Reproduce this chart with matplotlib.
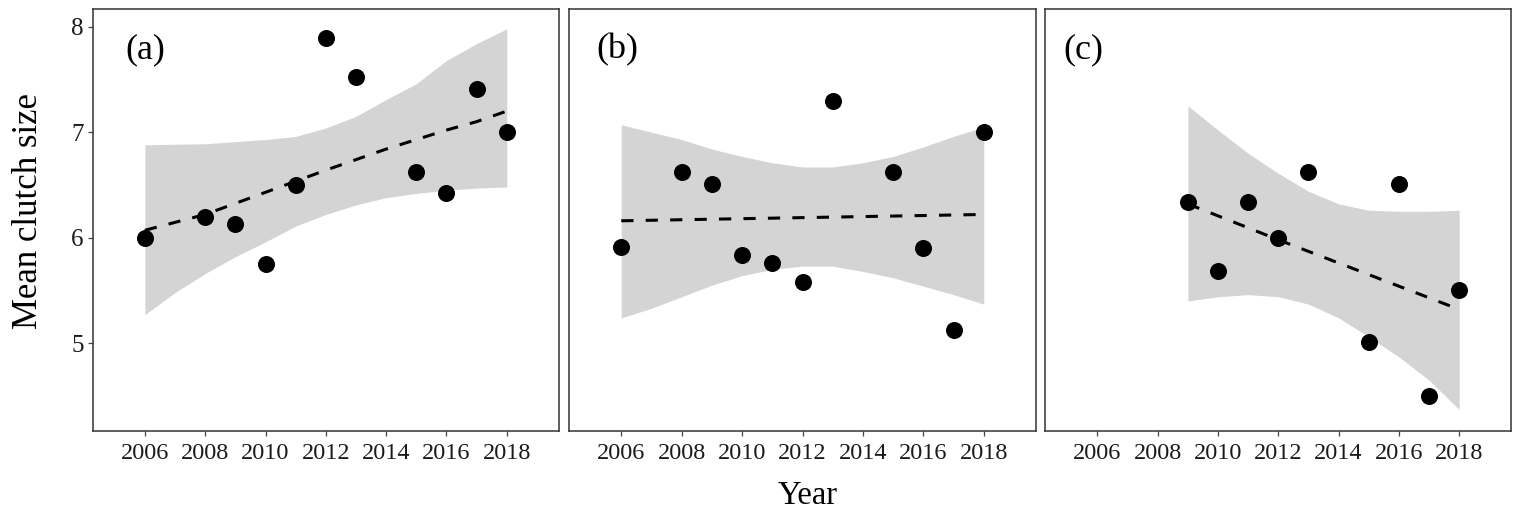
import matplotlib
matplotlib.use("Agg")
import matplotlib.pyplot as plt

plt.rcParams["font.family"] = ["Liberation Serif", "DejaVu Serif"]

# ---- data ----
years_a = [2006, 2008, 2009, 2010, 2011, 2012, 2013, 2015, 2016, 2017, 2018]
clutch_a = [6.00, 6.20, 6.13, 5.75, 6.50, 7.89, 7.52, 6.62, 6.42, 7.41, 7.00]

years_b = [2006, 2008, 2009, 2010, 2011, 2012, 2013, 2015, 2016, 2017, 2018]
clutch_b = [5.91, 6.62, 6.51, 5.84, 5.76, 5.58, 7.30, 6.62, 5.90, 5.12, 7.00]

years_c = [2009, 2010, 2011, 2012, 2013, 2015, 2016, 2017, 2018]
clutch_c = [6.34, 5.68, 6.34, 6.00, 6.62, 5.01, 6.51, 4.50, 5.50]

# fitted trend lines
fit_x_a = [2006, 2008, 2010, 2012, 2014, 2016, 2017, 2018]
fit_y_a = [6.07, 6.22, 6.43, 6.64, 6.84, 7.02, 7.10, 7.20]
fit_x_b = [2006, 2012, 2018]
fit_y_b = [6.16, 6.19, 6.22]
fit_x_c = [2009, 2012, 2015, 2018]
fit_y_c = [6.32, 5.98, 5.65, 5.32]

# confidence bands
band_x_ab = [2006, 2007, 2008, 2009, 2010, 2011, 2012, 2013, 2014, 2015, 2016, 2017, 2018]
band_hi_a = [6.88, 6.886, 6.89, 6.91, 6.93, 6.96, 7.04, 7.15, 7.31, 7.46, 7.68, 7.84, 7.98]
band_lo_a = [5.27, 5.48, 5.66, 5.82, 5.96, 6.11, 6.22, 6.31, 6.38, 6.42, 6.45, 6.47, 6.48]
band_hi_b = [7.07, 7.00, 6.93, 6.84, 6.77, 6.71, 6.67, 6.67, 6.71, 6.77, 6.86, 6.96, 7.05]
band_lo_b = [5.24, 5.33, 5.44, 5.55, 5.64, 5.70, 5.73, 5.73, 5.68, 5.62, 5.54, 5.46, 5.37]
band_x_c = [2009, 2010, 2011, 2012, 2013, 2014, 2015, 2016, 2017, 2018]
band_hi_c = [7.25, 7.02, 6.80, 6.61, 6.44, 6.32, 6.26, 6.25, 6.25, 6.26]
band_lo_c = [5.40, 5.44, 5.46, 5.44, 5.37, 5.24, 5.06, 4.87, 4.65, 4.37]

panel_labels = ["(a)", "(b)", "(c)"]
x_ticks = [2006, 2008, 2010, 2012, 2014, 2016, 2018]
y_ticks = [5, 6, 7, 8]

panels = [
    (years_a, clutch_a, fit_x_a, fit_y_a, band_x_ab, band_hi_a, band_lo_a),
    (years_b, clutch_b, fit_x_b, fit_y_b, band_x_ab, band_hi_b, band_lo_b),
    (years_c, clutch_c, fit_x_c, fit_y_c, band_x_c, band_hi_c, band_lo_c),
]

W, H = 1513, 516
fig = plt.figure(figsize=(W / 100, H / 100), dpi=100)

# axes boxes in pixels: left, right
boxes = [(92.7, 558.7), (569.0, 1035.7), (1045.3, 1511.0)]
top_px, bot_px = 9.3, 430.7
label_x = [0.112, 0.103, 0.082]

for i, (box, data) in enumerate(zip(boxes, panels)):
    yrs, vals, fx, fy, bx, bhi, blo = data
    l, r = box
    ax = fig.add_axes([l / W, 1 - bot_px / H, (r - l) / W, (bot_px - top_px) / H])
    ax.fill_between(bx, blo, bhi, color="#d4d4d4", linewidth=0, zorder=1)
    ax.plot(fx, fy, color="black", linestyle=(0, (4, 4)), linewidth=2.2, zorder=2)
    ax.scatter(yrs, vals, s=150, color="black", zorder=3, linewidths=0)

    ax.set_xlim(2004.27, 2019.72)
    ax.set_ylim(4.17, 8.165)
    ax.set_xticks(x_ticks)
    ax.set_xticklabels([str(t) for t in x_ticks])
    ax.tick_params(axis="x", length=3.5, width=0.9, color="#444444",
                   labelsize=17.5, pad=5, labelcolor="#1a1a1a")
    if i == 0:
        ax.set_yticks(y_ticks)
        ax.tick_params(axis="y", length=3.5, width=0.9, color="#444444",
                       labelsize=18, pad=3, labelcolor="#1a1a1a")
    else:
        ax.set_yticks([])
    for sp in ax.spines.values():
        sp.set_color("#333333")
        sp.set_linewidth(1.1)
    ax.text(label_x[i], 0.903, panel_labels[i], transform=ax.transAxes,
            ha="center", va="center", fontsize=26)

fig.text(29 / W, 1 - 211 / H, "Mean clutch size", rotation=90,
         ha="center", va="center", fontsize=25)
fig.text(808 / W, 1 - 496 / H, "Year", ha="center", va="center", fontsize=23.5)

fig.savefig("out.png", dpi=100)
